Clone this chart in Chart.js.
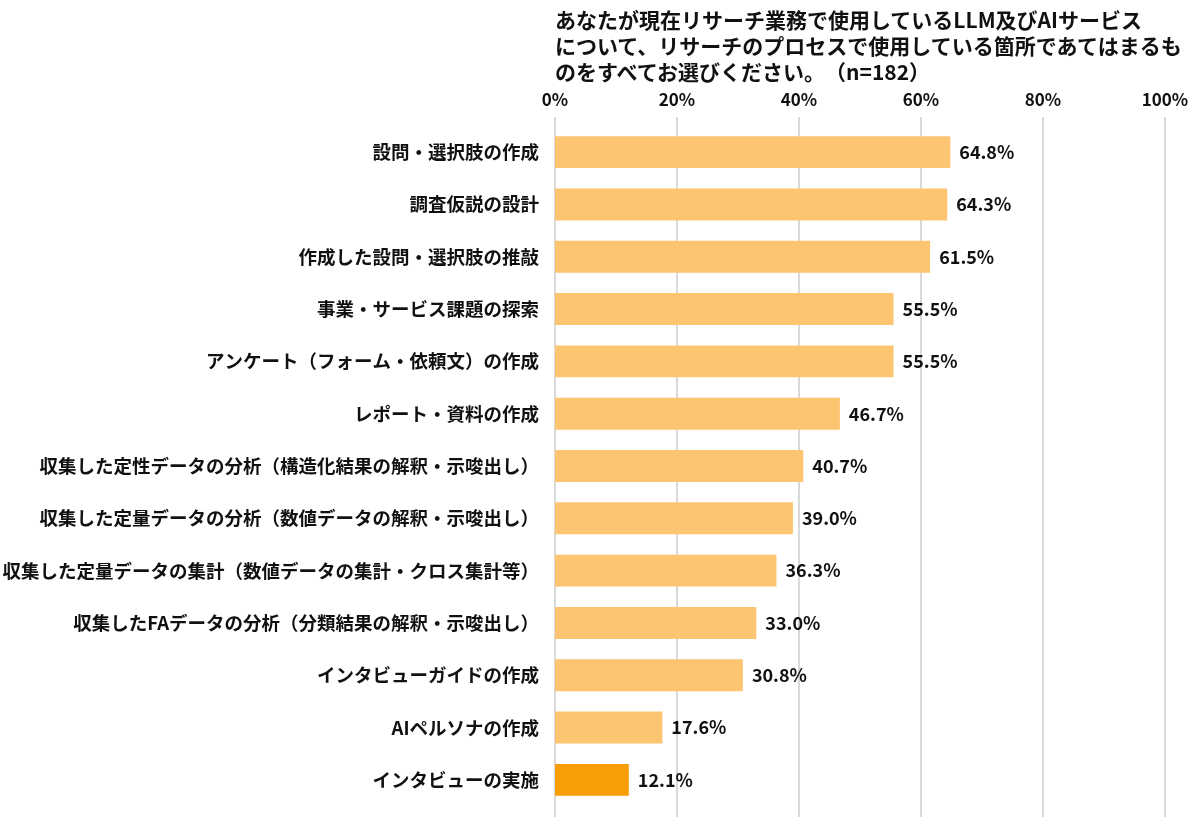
<!DOCTYPE html>
<html>
<head>
<meta charset="utf-8">
<script src="https://cdn.jsdelivr.net/npm/chart.js@4"></script>
<style>
  body { margin: 0; background: #fff; }
  #wrap { position: relative; width: 1200px; height: 830px; }
  #title {
    position: absolute; left: 555px; top: 6px;
    font: bold 21px "Noto Sans CJK JP", sans-serif; line-height: 26px; color: #111;
    text-spacing-trim: space-all; white-space: nowrap;
  }
</style>
</head>
<body>
<div id="wrap">
  <div id="title">あなたが現在リサーチ業務で使用しているLLM及びAIサービス<br>について、リサーチのプロセスで使用している箇所であてはまるも<br>のをすべてお選びください。（n=182）</div>
  <canvas id="chart" width="1200" height="830"></canvas>
</div>
<script>
// data
const categories = [
  "設問・選択肢の作成",
  "調査仮説の設計",
  "作成した設問・選択肢の推敲",
  "事業・サービス課題の探索",
  "アンケート（フォーム・依頼文）の作成",
  "レポート・資料の作成",
  "収集した定性データの分析（構造化結果の解釈・示唆出し）",
  "収集した定量データの分析（数値データの解釈・示唆出し）",
  "収集した定量データの集計（数値データの集計・クロス集計等）",
  "収集したFAデータの分析（分類結果の解釈・示唆出し）",
  "インタビューガイドの作成",
  "AIペルソナの作成",
  "インタビューの実施"
];
const values = [64.8, 64.3, 61.5, 55.5, 55.5, 46.7, 40.7, 39.0, 36.3, 33.0, 30.8, 17.6, 12.1];
const tickValues = [0, 20, 40, 60, 80, 100];

const font = "'Noto Sans CJK JP', sans-serif";
const barColors = values.map((v, i) => i === values.length - 1 ? "#F99D07" : "#FDC471");

// vertical grid lines, a bit taller than the bar area
const gridLines = {
  id: "gridLines",
  beforeDatasetsDraw(chart) {
    const ctx = chart.ctx;
    const x = chart.scales.x;
    const area = chart.chartArea;
    ctx.save();
    ctx.strokeStyle = "#d9d9d9";
    ctx.lineWidth = 2;
    tickValues.forEach(v => {
      const px = Math.round(x.getPixelForValue(v));
      ctx.beginPath();
      ctx.moveTo(px, area.top - 9);
      ctx.lineTo(px, area.bottom + 11);
      ctx.stroke();
    });
    ctx.restore();
  }
};

// value labels at bar ends
const valueLabels = {
  id: "valueLabels",
  afterDatasetsDraw(chart) {
    const ctx = chart.ctx;
    const meta = chart.getDatasetMeta(0);
    ctx.save();
    ctx.font = "bold 18px " + font;
    ctx.fillStyle = "#111";
    ctx.textBaseline = "middle";
    meta.data.forEach((bar, i) => {
      ctx.fillText(values[i].toFixed(1) + "%", bar.x + 9, bar.y);
    });
    ctx.restore();
  }
};

new Chart(document.getElementById("chart"), {
  type: "bar",
  data: {
    labels: categories,
    datasets: [{
      data: values,
      backgroundColor: barColors,
      categoryPercentage: 0.61,
      barPercentage: 1
    }]
  },
  options: {
    indexAxis: "y",
    responsive: false,
    animation: false,
    layout: { padding: { top: 88, right: 35, bottom: 24, left: 0 } },
    plugins: { legend: { display: false }, tooltip: { enabled: false } },
    scales: {
      x: {
        position: "top",
        min: 0,
        max: 100,
        afterBuildTicks(scale) {
          scale.ticks = tickValues.map(v => ({ value: v }));
        },
        afterFit(scale) { scale.height = 38; },
        ticks: {
          callback: v => v + "%",
          font: { family: font, size: 17, weight: "bold" },
          color: "#111",
          padding: 8
        },
        grid: { display: false },
        border: { display: false }
      },
      y: {
        afterFit(scale) { scale.width = 555; },
        ticks: {
          font: { family: font, size: 18.5, weight: "bold" },
          color: "#111",
          padding: 8
        },
        grid: { display: false },
        border: { display: false }
      }
    }
  },
  plugins: [gridLines, valueLabels]
});
</script>
</body>
</html>
